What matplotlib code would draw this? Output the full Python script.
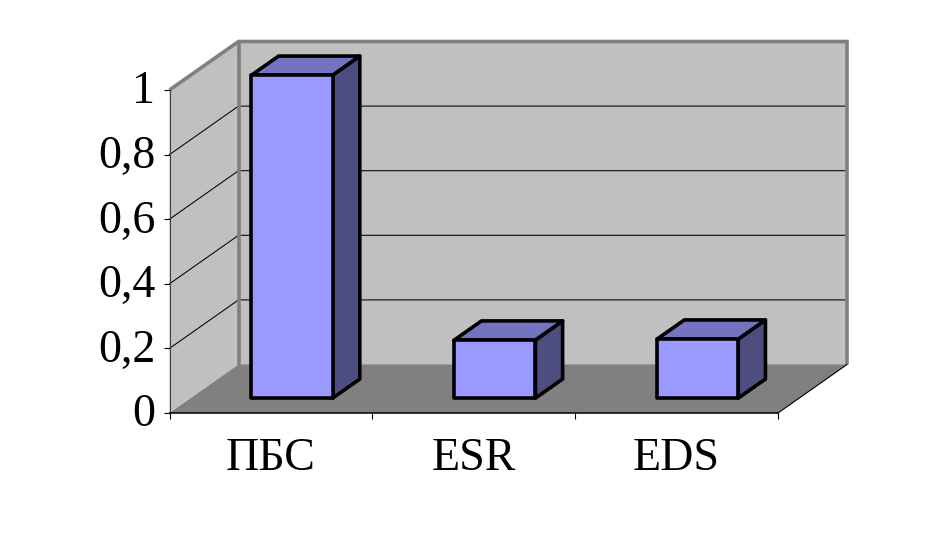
#!/usr/bin/env python3
import matplotlib
matplotlib.use("Agg")
import matplotlib.pyplot as plt
from matplotlib.patches import Polygon
from matplotlib.transforms import ScaledTranslation

categories = ["ПБС", "ESR", "EDS"]
values = [1.0, 0.18, 0.183]
y_ticks = [0, 0.2, 0.4, 0.6, 0.8, 1.0]
y_tick_labels = ["0", "0,2", "0,4", "0,6", "0,8", "1"]

W, H = 936, 534
# front plane of the box in pixels
LEFT, RIGHT, BOTTOM, TOP = 169.5, 778, 413, 90

# oblique projection: full box depth expressed in data units
DEPTH_X = 69 / ((RIGHT - LEFT) / 3)
DEPTH_Y = 48.5 / (BOTTOM - TOP)
BAR_WIDTH = 0.4
BAR_D0, BAR_D1 = 0.306, 0.70

plt.rcParams["font.family"] = ["Liberation Serif", "DejaVu Serif"]

fig = plt.figure(figsize=(W / 100, H / 100), dpi=100)
ax = fig.add_axes([LEFT / W, 1 - BOTTOM / H, (RIGHT - LEFT) / W, (BOTTOM - TOP) / H])
ax.set_xlim(0, len(categories))
ax.set_ylim(0, 1)
ax.patch.set_visible(False)


def proj(x, y, d):
    return x + d * DEPTH_X, y + d * DEPTH_Y


def face(points, color, z, edge="none", lw=0):
    ax.add_patch(Polygon([proj(*p) for p in points], closed=True, facecolor=color,
                         edgecolor=edge, linewidth=lw, clip_on=False, zorder=z,
                         joinstyle="round"))


n = len(categories)
# walls and floor
face([(0, 0, 0), (0, 1, 0), (0, 1, 1), (0, 0, 1)], "#c0c0c0", 1)
face([(0, 0, 1), (0, 1, 1), (n, 1, 1), (n, 0, 1)], "#c0c0c0", 1)
face([(0, 0, 0), (0, 0, 1), (n, 0, 1), (n, 0, 0)], "#808080", 1)

# gridlines on side and back wall
for t in y_ticks[1:-1]:
    xs, ys = zip(proj(0, t, 0), proj(0, t, 1), proj(n, t, 1))
    ax.plot(xs, ys, color="black", lw=0.75, clip_on=False, zorder=2)

# grey wall borders
for pts in ([(0, 1, 0), (0, 1, 1), (n, 1, 1), (n, 0, 1)], [(0, 1, 1), (0, 0, 1)]):
    xs, ys = zip(*[proj(*p) for p in pts])
    ax.plot(xs, ys, color="#808080", lw=2.6, clip_on=False, zorder=3,
            solid_joinstyle="miter", solid_capstyle="butt")

# floor right edge
xs, ys = zip(proj(n, 0, 0), proj(n, 0, 1))
ax.plot(xs, ys, color="black", lw=0.8, clip_on=False, zorder=3)

# bars
for i, v in enumerate(values):
    x0 = i + 0.5 - BAR_WIDTH / 2
    x1 = i + 0.5 + BAR_WIDTH / 2
    face([(x1, 0, BAR_D0), (x1, 0, BAR_D1), (x1, v, BAR_D1), (x1, v, BAR_D0)],
         "#4d4d80", 4, "black", 2.6)
    face([(x0, v, BAR_D0), (x0, v, BAR_D1), (x1, v, BAR_D1), (x1, v, BAR_D0)],
         "#7373bf", 4, "black", 2.6)
    face([(x0, 0, BAR_D0), (x0, v, BAR_D0), (x1, v, BAR_D0), (x1, 0, BAR_D0)],
         "#9999ff", 5, "black", 2.6)

# axes
for s in ("top", "right"):
    ax.spines[s].set_visible(False)
ax.spines["left"].set_color("#404040")
ax.spines["left"].set_linewidth(0.8)
ax.spines["bottom"].set_linewidth(1.1)
ax.spines["left"].set_zorder(6)
ax.spines["bottom"].set_zorder(6)

ax.set_yticks(y_ticks)
ax.set_yticklabels(y_tick_labels)
ax.tick_params(axis="y", length=4.3, width=0.8, pad=6, labelsize=33)
# labels sit a little higher than the tick marks in the original
lift = ScaledTranslation(0, 2 / 72, fig.dpi_scale_trans)
for lab in ax.get_yticklabels():
    lab.set_verticalalignment("center_baseline")
    lab.set_transform(lab.get_transform() + lift)

ax.set_xticks(range(n + 1))
ax.set_xticklabels([""] * (n + 1))
ax.set_xticks([i + 0.5 for i in range(n)], minor=True)
ax.set_xticklabels(categories, minor=True)
ax.tick_params(axis="x", which="major", length=4.3, width=0.8)
ax.tick_params(axis="x", which="minor", length=0, pad=18, labelsize=33)

fig.savefig("out.png", dpi=100, facecolor="white")
